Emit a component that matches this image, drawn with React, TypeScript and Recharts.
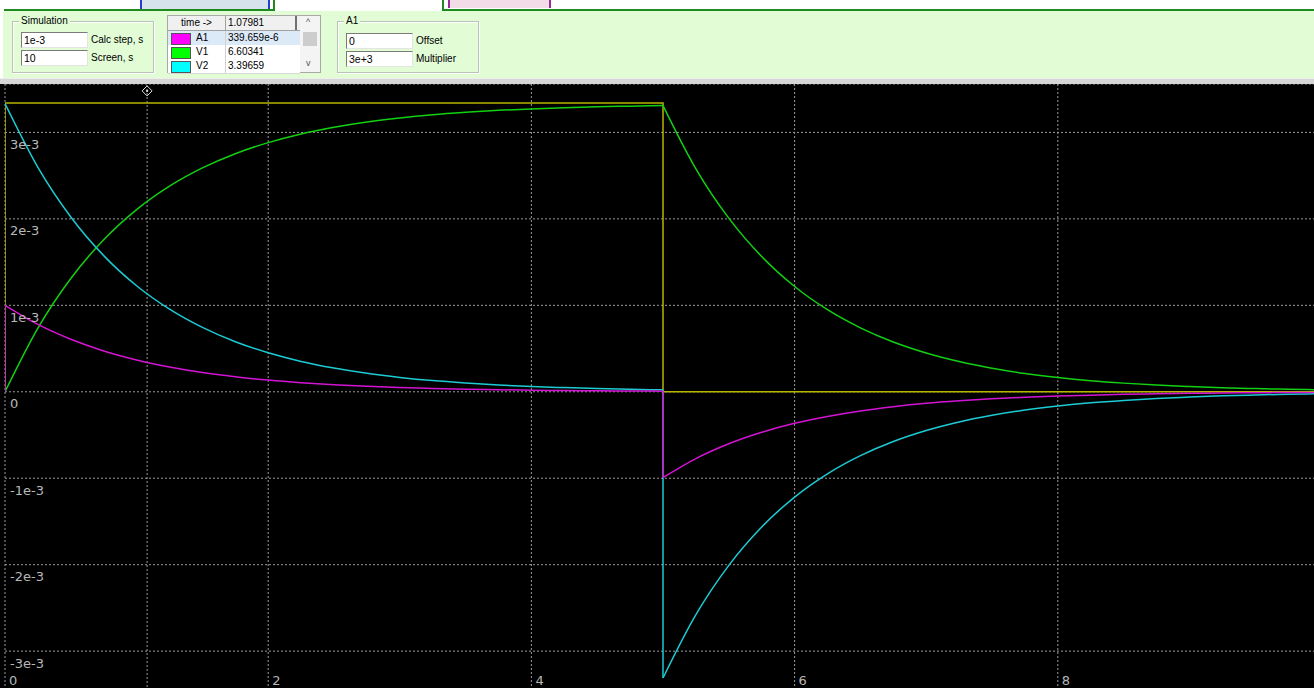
import {
  CartesianGrid,
  Line,
  LineChart,
  ReferenceDot,
  ReferenceLine,
  XAxis,
  YAxis,
} from "recharts";

// time samples, s
const tCharge = [0, 0.25, 0.5, 0.75, 1, 1.25, 1.5, 1.75, 2, 2.25, 2.5, 2.75, 3, 3.25, 3.5, 3.75, 4, 4.25, 4.5, 4.75, 5];
const tDischarge = [5, 5.25, 5.5, 5.75, 6, 6.25, 6.5, 6.75, 7, 7.25, 7.5, 7.75, 8, 8.25, 8.5, 8.75, 9, 9.25, 9.5, 9.75, 10];

// source pulse (yellow)
const pulseTime = [0, 0, 5, 5, 10];
const pulseValue = [0, 3.34, 3.34, 0, 0];

// V1 (green), in 1e-3 screen units
const v1Charge = [0, 0.737, 1.311, 1.758, 2.107, 2.378, 2.589, 2.754, 2.882, 2.982, 3.059, 3.12, 3.167, 3.204, 3.232, 3.255, 3.272, 3.285, 3.296, 3.304, 3.311];
const v1Discharge = [3.311, 2.579, 2.008, 1.564, 1.218, 0.949, 0.739, 0.575, 0.448, 0.349, 0.272, 0.212, 0.165, 0.128, 0.1, 0.078, 0.061, 0.047, 0.037, 0.029, 0.022];

// V2 (cyan)
const v2Charge = [3.333, 2.596, 2.022, 1.575, 1.226, 0.955, 0.744, 0.579, 0.451, 0.351, 0.274, 0.213, 0.166, 0.129, 0.101, 0.078, 0.061, 0.048, 0.037, 0.029, 0.022];
const v2Discharge = [-3.311, -2.579, -2.008, -1.564, -1.218, -0.949, -0.739, -0.575, -0.448, -0.349, -0.272, -0.212, -0.165, -0.128, -0.1, -0.078, -0.061, -0.047, -0.037, -0.029, -0.022];

// A1 (magenta)
const a1Charge = [1, 0.779, 0.607, 0.472, 0.368, 0.287, 0.223, 0.174, 0.135, 0.105, 0.082, 0.064, 0.05, 0.039, 0.03, 0.024, 0.018, 0.014, 0.011, 0.009, 0.007];
const a1Discharge = [-0.993, -0.773, -0.602, -0.469, -0.365, -0.285, -0.222, -0.173, -0.134, -0.105, -0.082, -0.063, -0.049, -0.039, -0.03, -0.023, -0.018, -0.014, -0.011, -0.009, -0.007];

const xTicks = [0, 2, 4, 6, 8];
const yTicks = [-3, -2, -1, 0, 1, 2, 3];
const cursorTime = 1.07981;

const pts = (ts: number[], vs: number[]) => ts.map((t, i) => ({ t, v: vs[i] }));

const YELLOW = "#b8b400";
const GREEN = "#12d012";
const CYAN = "#1ccbd4";
const MAGENTA = "#d414d4";
const GRID = "#9a9a9a";
const LABEL = "#b8b8b8";

const panelFont = "'Liberation Sans', Arial, sans-serif";

const YTick = (props: any) => {
  const { y, payload } = props;
  const v = payload.value;
  return (
    <text x={10} y={y + 16.5} fill={LABEL} fontSize={13} fontFamily="'DejaVu Sans', sans-serif">
      {v === 0 ? "0" : `${v}e-3`}
    </text>
  );
};

const XTick = (props: any) => {
  const { x, payload } = props;
  return (
    <text x={x + 4} y={601} fill={LABEL} fontSize={13} fontFamily="'DejaVu Sans', sans-serif">
      {payload.value}
    </text>
  );
};

const Diamond = (props: any) => {
  const { cx, cy } = props;
  return (
    <g>
      <path
        d={`M${cx},${cy - 5} L${cx + 5},${cy} L${cx},${cy + 5} L${cx - 5},${cy} Z`}
        fill="none"
        stroke="#d8d8d8"
        strokeWidth={1}
      />
      <rect x={cx - 1} y={cy - 1} width={2} height={2} fill="#d8d8d8" />
    </g>
  );
};

const Input = ({ left, top, value }: { left: number; top: number; value: string }) => (
  <div
    style={{
      position: "absolute",
      left,
      top,
      width: 63,
      height: 14,
      background: "#fff",
      borderTop: "1px solid #7a7a7a",
      borderLeft: "1px solid #7a7a7a",
      borderRight: "1px solid #e4e4e4",
      borderBottom: "1px solid #e4e4e4",
      fontSize: 10.5,
      lineHeight: "14px",
      paddingLeft: 2,
      boxSizing: "content-box",
    }}
  >
    {value}
  </div>
);

const GroupBox = ({ left, width, title }: { left: number; width: number; title: string }) => (
  <div
    style={{
      position: "absolute",
      left,
      top: 21,
      width,
      height: 50,
      border: "1px solid #b8c4b8",
      boxShadow: "1px 1px 0 #ffffff inset, 1px 1px 0 #ffffff",
    }}
  >
    <span
      style={{
        position: "absolute",
        left: 6,
        top: -7,
        background: "#e2fcd6",
        padding: "0 2px",
        fontSize: 10,
        lineHeight: "12px",
      }}
    >
      {title}
    </span>
  </div>
);

const rowStyle = (top: number, bg: string): React.CSSProperties => ({
  position: "absolute",
  left: 0,
  top,
  width: 132,
  height: 14,
  background: bg,
  borderBottom: "1px solid #d8d8d8",
  fontSize: 10,
  lineHeight: "14px",
});

const TableRow = ({ top, color, name, value, bg }: { top: number; color: string; name: string; value: string; bg: string }) => (
  <div style={rowStyle(top, bg)}>
    <div style={{ position: "absolute", left: 3, top: 2, width: 18, height: 10, background: color, border: "1px solid #555" }} />
    <span style={{ position: "absolute", left: 28 }}>{name}</span>
    <div style={{ position: "absolute", left: 57, top: 0, width: 1, height: 14, background: "#d0d0d0" }} />
    <span style={{ position: "absolute", left: 60 }}>{value}</span>
  </div>
);

const TopPanel = () => (
  <div style={{ position: "absolute", left: 0, top: 0, width: 1314, height: 84, fontFamily: panelFont, color: "#000" }}>
    {/* tab strip */}
    <div style={{ position: "absolute", left: 140, top: 0, width: 126, height: 9, background: "#d6e2ec", borderLeft: "2px solid #2a3ad8", borderRight: "2px solid #2a3ad8" }} />
    <div style={{ position: "absolute", left: 448, top: 0, width: 99, height: 8, background: "#f2dce8", borderLeft: "2px solid #9a2a9a", borderRight: "2px solid #9a2a9a" }} />
    <div style={{ position: "absolute", left: 4, top: 9, width: 271, height: 2, background: "#1f8a1f" }} />
    <div style={{ position: "absolute", left: 273, top: 0, width: 2, height: 11, background: "#1f8a1f" }} />
    <div style={{ position: "absolute", left: 442, top: 0, width: 2, height: 11, background: "#1f8a1f" }} />
    <div style={{ position: "absolute", left: 442, top: 9, width: 872, height: 2, background: "#1f8a1f" }} />
    {/* panel */}
    <div style={{ position: "absolute", left: 3, top: 11, width: 1311, height: 67, background: "#e2fcd6" }} />
    <div style={{ position: "absolute", left: 0, top: 78, width: 1314, height: 6, background: "#d6d6d6", borderTop: "1px solid #eeeeee", boxSizing: "border-box" }} />

    <GroupBox left={12} width={140} title="Simulation" />
    <Input left={21} top={32} value="1e-3" />
    <Input left={21} top={50} value="10" />
    <span style={{ position: "absolute", left: 91, top: 34, fontSize: 10 }}>Calc step, s</span>
    <span style={{ position: "absolute", left: 91, top: 52, fontSize: 10 }}>Screen, s</span>

    {/* values table */}
    <div style={{ position: "absolute", left: 167, top: 15, width: 154, height: 58, background: "#fff", border: "1px solid #a8a8a8", boxSizing: "border-box" }}>
      <div style={{ position: "absolute", left: 0, top: 0, width: 132, height: 14, background: "#f0f0f0", borderBottom: "1px solid #a0a0a0", fontSize: 10, lineHeight: "14px" }}>
        <span style={{ position: "absolute", left: 0, width: 57, textAlign: "center" }}>time -&gt;</span>
        <div style={{ position: "absolute", left: 57, top: 0, width: 1, height: 14, background: "#a0a0a0" }} />
        <span style={{ position: "absolute", left: 60 }}>1.07981</span>
        <div style={{ position: "absolute", left: 127, top: 0, width: 2, height: 14, background: "#707070" }} />
      </div>
      <TableRow top={15} color="#ff00ff" name="A1" value="339.659e-6" bg="#dceaf8" />
      <TableRow top={29} color="#00ff00" name="V1" value="6.60341" bg="#ffffff" />
      <TableRow top={43} color="#00ffff" name="V2" value="3.39659" bg="#ffffff" />
      {/* scrollbar */}
      <div style={{ position: "absolute", left: 132, top: 0, width: 20, height: 56, background: "#f4f4f4" }}>
        <span style={{ position: "absolute", left: 6, top: 1, fontSize: 9, color: "#555" }}>^</span>
        <div style={{ position: "absolute", left: 3, top: 16, width: 14, height: 14, background: "#cdcdcd" }} />
        <span style={{ position: "absolute", left: 6, top: 42, fontSize: 9, color: "#555" }}>v</span>
      </div>
    </div>

    <GroupBox left={337} width={140} title="A1" />
    <Input left={346} top={33} value="0" />
    <Input left={346} top={51} value="3e+3" />
    <span style={{ position: "absolute", left: 416, top: 35, fontSize: 10 }}>Offset</span>
    <span style={{ position: "absolute", left: 416, top: 53, fontSize: 10 }}>Multiplier</span>
  </div>
);

const App = () => {
  return (
    <div style={{ position: "relative", width: 1314, height: 688, overflow: "hidden", background: "#fff" }}>
      <style>{"body{margin:0}"}</style>
      <TopPanel />
      <div style={{ position: "absolute", left: 0, top: 84, width: 1314, height: 604, background: "#000", overflow: "hidden" }}>
        <LineChart width={1325} height={620} margin={{ top: 0, right: 4, bottom: 0, left: 4 }}>
          <CartesianGrid stroke={GRID} strokeDasharray="2 2" />
          <XAxis
            dataKey="t"
            type="number"
            domain={[0, 10]}
            ticks={xTicks}
            interval={0}
            height={1}
            axisLine={false}
            tickLine={false}
            tick={<XTick />}
            allowDataOverflow
          />
          <YAxis
            dataKey="v"
            type="number"
            domain={[-3.6, 3.56]}
            ticks={yTicks}
            interval={0}
            width={1}
            axisLine={false}
            tickLine={false}
            tick={<YTick />}
            allowDataOverflow
          />
          <ReferenceLine x={cursorTime} stroke={GRID} strokeDasharray="2 2" />
          <ReferenceDot x={cursorTime} y={3.48} shape={<Diamond />} />

          <Line data={pts(pulseTime, pulseValue)} dataKey="v" type="linear" stroke={YELLOW} strokeWidth={1.5} dot={false} isAnimationActive={false} />

          <Line data={pts(tCharge, v1Charge)} dataKey="v" type="monotone" stroke={GREEN} strokeWidth={1.5} dot={false} isAnimationActive={false} />
          <Line data={pts(tDischarge, v1Discharge)} dataKey="v" type="monotone" stroke={GREEN} strokeWidth={1.5} dot={false} isAnimationActive={false} />

          <Line data={pts(tCharge, v2Charge)} dataKey="v" type="monotone" stroke={CYAN} strokeWidth={1.5} dot={false} isAnimationActive={false} />
          <Line data={pts([5, 5], [v2Charge[v2Charge.length - 1], v2Discharge[0]])} dataKey="v" type="linear" stroke={CYAN} strokeWidth={1.5} dot={false} isAnimationActive={false} />
          <Line data={pts(tDischarge, v2Discharge)} dataKey="v" type="monotone" stroke={CYAN} strokeWidth={1.5} dot={false} isAnimationActive={false} />

          <Line data={pts([0, 0], [0, a1Charge[0]])} dataKey="v" type="linear" stroke={MAGENTA} strokeWidth={1.5} dot={false} isAnimationActive={false} />
          <Line data={pts(tCharge, a1Charge)} dataKey="v" type="monotone" stroke={MAGENTA} strokeWidth={1.5} dot={false} isAnimationActive={false} />
          <Line data={pts([5, 5], [a1Charge[a1Charge.length - 1], a1Discharge[0]])} dataKey="v" type="linear" stroke={MAGENTA} strokeWidth={1.5} dot={false} isAnimationActive={false} />
          <Line data={pts(tDischarge, a1Discharge)} dataKey="v" type="monotone" stroke={MAGENTA} strokeWidth={1.5} dot={false} isAnimationActive={false} />
        </LineChart>
      </div>
    </div>
  );
};

export default App;
